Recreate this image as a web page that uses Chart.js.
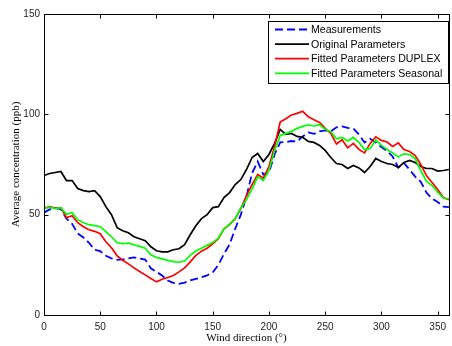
<!DOCTYPE html>
<html><head><meta charset="utf-8">
<script src="https://cdn.jsdelivr.net/npm/chart.js@4.4.0/dist/chart.umd.min.js"></script>
<style>html,body{margin:0;padding:0;background:#fff;} #wrap{width:452px;height:346px;position:relative;}</style>
</head><body><div id="wrap"><canvas id="c" width="452" height="346"></canvas></div>
<script>
const directions = [0,5,10,15,20,25,30,35,40,45,50,55,60,65,70,75,80,85,90,95,100,105,110,115,120,125,130,135,140,145,150,155,160,165,170,175,180,185,190,195,200,205,210,215,220,225,230,235,240,245,250,255,260,265,270,275,280,285,290,295,300,305,310,315,320,325,330,335,340,345,350,355,360];
const measurements = [51,52.6,53.3,52.8,48,45.4,40.6,38.6,36,32.5,31.8,29.5,28.2,27.5,27.7,28.2,28.7,28.2,27.6,23.3,21.5,19.7,17.2,16,15.5,16.1,17.2,18,18.8,19.7,21.2,25,30.4,35.2,43,50,59,70.7,76.5,70,71,80,86,86.2,86.7,86.5,89,91,90.3,91.5,92,91.5,93.5,94,93.2,93,90,86,87.8,86,83.7,81.7,79,73.5,75.8,72.5,69,66.4,61,58,56.3,54,53.8];
const originalParams = [69.5,70.5,71,71.5,67,67,63,62,61.5,62,59,54,50,43.5,42,41,39,38,37,34,32,31.5,31.5,32.5,33,35,40,44.5,48,50,53.5,54,58.5,61,65,67.5,72.5,78.5,80.5,76.5,80,85.5,92.5,90,90.5,89,88.5,86.5,86,84.5,82,78.5,75.5,75,73,74.5,73.3,71,74,78,76.5,75.5,75,73.5,76,77,76,74,73,73,71.7,72,72.5];
const duplexParams = [53.3,54,53.3,53.5,48.5,49.5,46,44,42.5,41.7,40.5,36.5,33.5,29.5,27.3,25.5,23.5,21.7,20,18.2,16.5,17.8,18.7,19.7,21.5,23.5,26.5,29.7,31.8,33.3,35.5,38,43,45,48,53,59.5,65,70,68.2,74,84,96.2,97.8,99.7,100.5,101.5,98.8,97.3,96,93,90.5,85.2,87.3,83.3,85.5,82.5,80.8,85.5,88.8,87,86.2,84,85.8,82.5,81.5,79.5,75,69.5,66,62.5,58.5,57.5];
const seasonalParams = [53,53.7,53,53.5,50.2,51,47.5,46,45,44.5,44,41.5,39,36,35.6,35.8,35,34.2,33.3,30,28.7,28,27.2,26.6,26.3,26.9,29.7,31.9,33.3,34.7,36.1,38.3,43,45.2,48,53.5,57.5,62.7,69,67,72,82,89.5,90.4,91.5,93,94,94.8,94.2,94.8,92.5,91.3,87.8,88.5,86.7,88.5,86,82.5,83,87.3,84.5,82.5,80.7,78.8,80.3,80,78,72,66.7,64.5,61.2,58.3,57.8];
const seriesLabels = ['Measurements','Original Parameters','Fitted Parameters DUPLEX','Fitted Parameters Seasonal'];
const xTicks = [0,50,100,150,200,250,300,350];
const yTicks = [0,50,100,150];

const pts = arr => directions.map((d,i)=>({x:d,y:arr[i]}));

const framePlugin = {
  id:'frame',
  afterDatasetsDraw(chart){
    const {ctx, chartArea:a, scales} = chart;
    ctx.save();
    ctx.strokeStyle = '#000'; ctx.lineWidth = 1;
    const L = Math.round(a.left)+0.5, R = Math.round(a.right)+0.5, T = Math.round(a.top)+0.5, B = Math.round(a.bottom)+0.5;
    ctx.strokeRect(L, T, R-L, B-T);
    ctx.beginPath();
    xTicks.forEach(v=>{
      const px = Math.round(scales.x.getPixelForValue(v))+0.5;
      ctx.moveTo(px,B); ctx.lineTo(px,B-4);
      ctx.moveTo(px,T); ctx.lineTo(px,T+4);
    });
    yTicks.forEach(v=>{
      const py = Math.round(scales.y.getPixelForValue(v))+0.5;
      ctx.moveTo(L,py); ctx.lineTo(L+4,py);
      ctx.moveTo(R,py); ctx.lineTo(R-4,py);
    });
    ctx.stroke();
    // legend
    const bx=268.5, by=21.5, bw=180, bh=62;
    ctx.fillStyle='#fff'; ctx.fillRect(bx,by,bw,bh);
    ctx.strokeRect(bx,by,bw,bh);
    ctx.font = '10.6px "Liberation Sans", Arial, sans-serif';
    ctx.textBaseline='middle'; ctx.textAlign='left';
    chart.data.datasets.forEach((ds,i)=>{
      const y = 29.5 + i*14.6;
      ctx.save();
      ctx.strokeStyle = ds.borderColor; ctx.lineWidth = ds.borderWidth;
      ctx.setLineDash(ds.borderDash||[]);
      ctx.beginPath(); ctx.moveTo(275,y); ctx.lineTo(309,y); ctx.stroke();
      ctx.restore();
      ctx.fillStyle='#000';
      ctx.fillText(ds.label, 311, y+0.5);
    });
    ctx.restore();
  }
};

new Chart(document.getElementById('c'), {
  type:'line',
  data:{datasets:[
    {label:seriesLabels[0], data:pts(measurements), borderColor:'#0000ff', borderWidth:1.8, borderDash:[8,4], order:3},
    {label:seriesLabels[1], data:pts(originalParams), borderColor:'#000000', borderWidth:1.7, order:2},
    {label:seriesLabels[2], data:pts(duplexParams), borderColor:'#ff0000', borderWidth:1.7, order:1},
    {label:seriesLabels[3], data:pts(seasonalParams), borderColor:'#00ff00', borderWidth:1.7, order:0}
  ]},
  options:{
    responsive:false, animation:false,
    layout:{padding:{left:0,top:14,right:0,bottom:0}},
    elements:{point:{radius:0}, line:{tension:0, fill:false}},
    plugins:{legend:{display:false}, tooltip:{enabled:false}},
    scales:{
      x:{type:'linear', min:0, max:360, border:{display:false},
        grid:{display:false, drawTicks:false},
        afterBuildTicks:s=>{s.ticks = xTicks.map(v=>({value:v}));},
        afterFit:s=>{s.height=31;},
        ticks:{autoSkip:false, maxRotation:0, padding:6, color:'#222', font:{family:'"Liberation Sans", Arial, sans-serif', size:10}},
        title:{display:true, text:'Wind direction (°)', color:'#000', font:{family:'"Liberation Serif", "Times New Roman", serif', size:11}, padding:{top:0,bottom:1.5}}
      },
      y:{type:'linear', min:0, max:150, border:{display:false},
        grid:{display:false, drawTicks:false},
        afterBuildTicks:s=>{s.ticks = yTicks.map(v=>({value:v}));},
        afterFit:s=>{s.width=44;},
        ticks:{padding:4, color:'#222', font:{family:'"Liberation Sans", Arial, sans-serif', size:10}},
        title:{display:true, text:'Average concentration (ppb)', color:'#000', font:{family:'"Liberation Serif", "Times New Roman", serif', size:11}, padding:{top:9.5,bottom:0}}
      }
    }
  },
  plugins:[framePlugin]
});
</script>
</body></html>
